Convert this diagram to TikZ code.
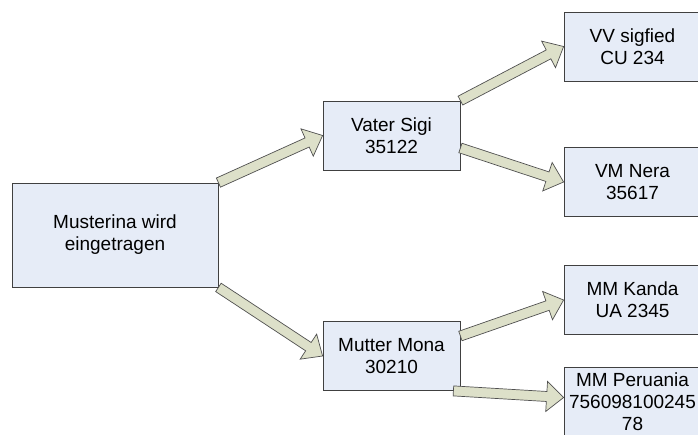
\documentclass[tikz,border=0pt]{standalone}
\usepackage{fontspec}
\setmainfont{Liberation Sans}
\usepackage{xcolor}
\usepackage{tikz}
\usetikzlibrary{calc}
\definecolor{boxfill}{HTML}{E6ECF7}
\definecolor{boxline}{HTML}{404040}
\definecolor{arrowfill}{HTML}{DDE0C9}
\definecolor{arrowline}{HTML}{505050}
% block arrow from #1 to #2
\newcommand{\famarrow}[2]{%
  \path [famarrow] let \p1=#1, \p2=#2,
    \n1={atan2(\y2-\y1,\x2-\x1)}, \n2={veclen(\x2-\x1,\y2-\y1)} in
    [shift={(\p1)}, rotate=\n1]
    (0,-5) -- ({\n2-17},-5) -- ({\n2-17},-15) -- (\n2,0)
    -- ({\n2-17},15) -- ({\n2-17},5) -- (0,5) -- cycle;%
}

\begin{document}
\begin{tikzpicture}[
  x=1pt, y=-1pt,
  person/.style={draw=boxline, fill=boxfill, line width=0.8pt, align=center,
    inner sep=0pt, minimum width=137pt, minimum height=69pt,
    font=\fontsize{19}{22}\selectfont},
  famarrow/.style={draw=arrowline, fill=arrowfill, line width=0.7pt},
]
\useasboundingbox (0,0) rectangle (698,435);
\clip (0,0) rectangle (698,435);

\node [person, minimum width=206pt, minimum height=104pt] (kind) at (115,235) {Musterina wird\\eingetragen};

\node [person] (vater) at (391.5,135.5) {Vater Sigi\\35122};
\node [person] (mutter) at (391.5,356) {Mutter Mona\\30210};

\node [person] (vv) at (632.5,46.5) {VV sigfied\\CU 234};
\node [person] (vm) at (632.5,182) {VM Nera\\35617};
\node [person] (mmk) at (632.5,300) {MM Kanda\\UA 2345};
\node [person] (mmp) at (632.5,401.5) {MM Peruania\\756098100245\\78};

% arrows
\famarrow{(kind.north east)}{(vater.west)}
\famarrow{(kind.south east)}{(mutter.west)}
\famarrow{(vater.north east)}{(vv.west)}
\famarrow{([yshift=-12.5pt]vater.east)}{(vm.west)}
\famarrow{([yshift=20pt]mutter.east)}{(mmk.west)}
\famarrow{([xshift=-7pt]mutter.south east)}{([yshift=4pt]mmp.west)}
\end{tikzpicture}
\end{document}
